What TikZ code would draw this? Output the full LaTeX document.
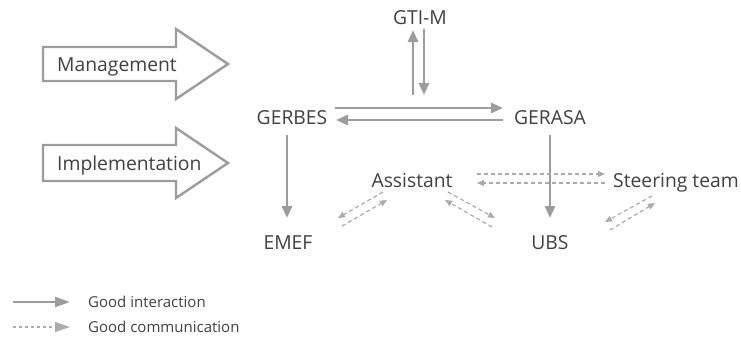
\documentclass[tikz,border=0pt]{standalone}
\usepackage{fontspec}
\setmainfont{Open Sans}
\usetikzlibrary{arrows.meta,calc}
\definecolor{txt}{HTML}{404040}
\definecolor{linegray}{HTML}{9C9C9C}
\definecolor{dashgray}{HTML}{ABABAB}
\tikzset{
  lbl/.style={inner sep=0pt, text=txt, font=\fontsize{19.3}{19.3}\selectfont, text height=14pt, text depth=0pt},
  leglbl/.style={inner sep=0pt, text=txt, font=\fontsize{15}{15}\selectfont, text height=10.5pt, text depth=0pt, anchor=west},
  solidarrow/.style={draw=linegray, line width=2.8pt, -{Triangle[length=12pt,width=10pt]}},
  dasharrow/.style={draw=dashgray, line width=1.2pt, dash pattern=on 4pt off 3pt, -{Triangle[length=7pt,width=6pt]}},
  legdash/.style={draw=dashgray, line width=1.1pt, dash pattern=on 3pt off 3pt, -{Triangle[length=15pt,width=10pt]}},
  blockarrow/.style={draw=linegray, line width=2.4pt, fill=white, line join=miter}
}
\begin{document}
\begin{tikzpicture}[x=1pt,y=-1pt]
\useasboundingbox (0,0) rectangle (741,349);

% block arrows on the left
\draw[blockarrow] (43,47) -- (176,47) -- (176,29) -- (228,64) -- (176,99) -- (176,81) -- (43,81) -- cycle;
\draw[blockarrow] (43,145) -- (176,145) -- (176,128) -- (228,163) -- (176,198) -- (176,181) -- (43,181) -- cycle;
\node[lbl, anchor=west] (mgmt) at (57,64) {Management};
\node[lbl, anchor=west] (impl) at (57,163) {Implementation};

% actors
\node[lbl] (gti) at (420,17) {GTI-M};
\node[lbl] (gerbes) at (292,117) {GERBES};
\node[lbl] (gerasa) at (550,117) {GERASA};
\node[lbl] (assistant) at (412,180) {Assistant};
\node[lbl, anchor=east] (steering) at (739,180) {Steering team};
\node[lbl] (emef) at (288,242) {EMEF};
\node[lbl] (ubs) at (550,242) {UBS};

% good interaction
\draw[solidarrow] ($(gti)+(-7,78)$) -- ($(gti)+(-7,13)$);
\draw[solidarrow] ($(gti)+(4,12)$) -- ($(gti)+(4,78)$);
\draw[solidarrow] ($(gerbes)+(43,-9)$) -- ($(gerasa)+(-47,-9)$);
\draw[solidarrow] ($(gerasa)+(-47,3)$) -- ($(gerbes)+(44,3)$);
\draw[solidarrow] ($(gerbes)+(-5,18)$) -- ($(emef)+(-1,-24)$);
\draw[solidarrow] ($(gerasa)+(0,18)$) -- ($(ubs)+(0,-24)$);

% good communication
\draw[dasharrow] ($(assistant)+(65,-6)$) -- ($(assistant)+(193,-6)$);
\draw[dasharrow] ($(assistant)+(193,3)$) -- ($(assistant)+(65,3)$);
\draw[dasharrow] ($(assistant)+(-29,12)$) -- ($(emef)+(50,-24)$);
\draw[dasharrow] ($(emef)+(54,-16)$) -- ($(assistant)+(-25,20)$);
\draw[dasharrow] ($(assistant)+(36,12)$) -- ($(ubs)+(-55,-24)$);
\draw[dasharrow] ($(ubs)+(-58,-15)$) -- ($(assistant)+(33,20)$);
\draw[dasharrow] ($(ubs)+(102,-46)$) -- ($(ubs)+(55,-20)$);
\draw[dasharrow] ($(ubs)+(60,-12)$) -- ($(ubs)+(105,-39)$);

% legend
\coordinate (ls1) at (13,302);
\coordinate (le1) at (70,302);
\coordinate (ls2) at (13,327);
\coordinate (le2) at (70,327);
\draw[solidarrow, line width=2pt, -{Triangle[length=15pt,width=10pt]}] (ls1) -- (le1);
\draw[legdash] (ls2) -- (le2);
\node[leglbl] (leg1) at (88,302) {Good interaction};
\node[leglbl] (leg2) at (88,327) {Good communication};
\end{tikzpicture}
\end{document}
